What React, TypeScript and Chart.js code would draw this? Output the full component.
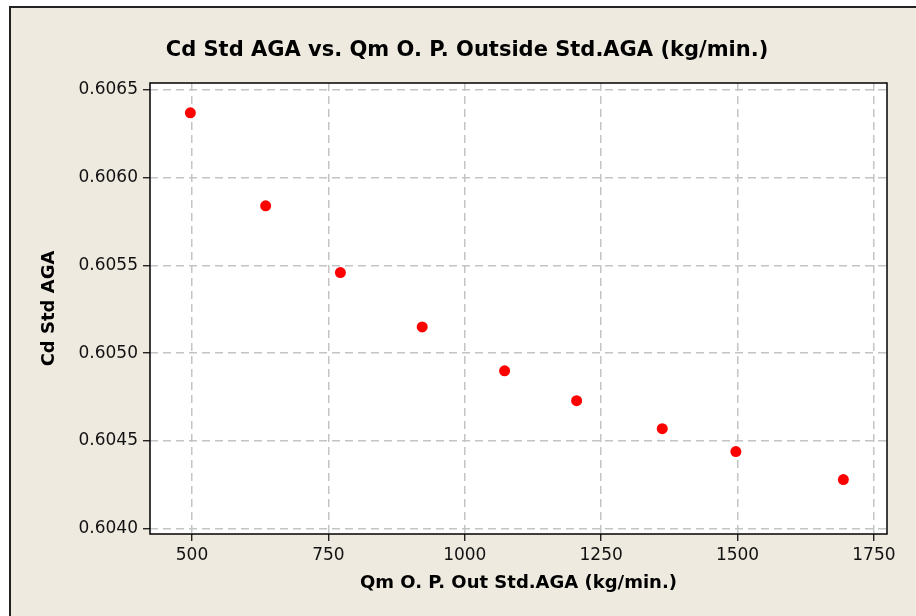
import React, { useEffect, useRef } from 'react';
import { Chart, registerables } from 'chart.js';

Chart.register(...registerables);

const flowRates = [497, 635, 772, 922, 1073, 1205, 1362, 1497, 1694];
const cdValues = [0.60637, 0.60584, 0.60546, 0.60515, 0.6049, 0.60473, 0.60457, 0.60444, 0.60428];
const xTicks = [500, 750, 1000, 1250, 1500, 1750];
const yTicks = [0.604, 0.6045, 0.605, 0.6055, 0.606, 0.6065];
const xRange = [423, 1774];
const yRange = [0.60397, 0.60654];

const titleText = 'Cd Std AGA vs. Qm O. P. Outside Std.AGA (kg/min.)';
const xTitle = 'Qm O. P. Out Std.AGA (kg/min.)';
const yTitle = 'Cd Std AGA';

const FONT = "'DejaVu Sans', Tahoma, Verdana, sans-serif";

const bgPlugin = {
  id: 'bgPlugin',
  beforeDraw(chart: any) {
    const { ctx, width, height, chartArea } = chart;
    ctx.save();
    ctx.fillStyle = '#ffffff';
    ctx.fillRect(0, 0, width, height);
    ctx.fillStyle = '#EEEAE0';
    ctx.fillRect(10, 7, width - 10, height - 7);
    ctx.strokeStyle = '#222222';
    ctx.lineWidth = 2;
    ctx.beginPath();
    ctx.moveTo(10, height);
    ctx.lineTo(10, 7);
    ctx.lineTo(width, 7);
    ctx.stroke();
    ctx.fillStyle = '#ffffff';
    ctx.fillRect(chartArea.left, chartArea.top, chartArea.right - chartArea.left, chartArea.bottom - chartArea.top);
    ctx.restore();
  },
  afterDraw(chart: any) {
    const { ctx, chartArea } = chart;
    ctx.save();
    ctx.strokeStyle = '#000000';
    ctx.lineWidth = 1.5;
    ctx.strokeRect(chartArea.left, chartArea.top, chartArea.right - chartArea.left, chartArea.bottom - chartArea.top);
    ctx.fillStyle = '#000000';
    ctx.font = `bold 21px ${FONT}`;
    ctx.textAlign = 'center';
    ctx.textBaseline = 'middle';
    ctx.fillText(titleText, 467, 51);
    ctx.restore();
  },
};

const gridOpts = {
  display: true,
  color: '#c4c4c4',
  lineWidth: 1.5,
  drawTicks: true,
  tickLength: 7,
  tickColor: '#000000',
  tickWidth: 1.2,
  tickBorderDash: [],
};

export default function App() {
  const ref = useRef<HTMLCanvasElement>(null);

  useEffect(() => {
    document.body.style.margin = '0';
    const canvas = ref.current;
    if (!canvas) return;
    const chart = new Chart(canvas, {
      type: 'scatter',
      data: {
        datasets: [
          {
            label: 'Cd',
            data: flowRates.map((x, i) => ({ x, y: cdValues[i] })),
            backgroundColor: '#ff0000',
            borderColor: '#ff0000',
            pointRadius: 5.5,
            pointHoverRadius: 5.5,
            borderWidth: 0,
          },
        ],
      },
      options: {
        animation: false,
        responsive: false,
        devicePixelRatio: 1,
        layout: { padding: { left: 0, right: 29, top: 83, bottom: 0 } },
        plugins: {
          legend: { display: false },
          tooltip: { enabled: false },
          title: { display: false },
        },
        scales: {
          x: {
            type: 'linear',
            min: xRange[0],
            max: xRange[1],
            afterBuildTicks: (scale: any) => {
              scale.ticks = xTicks.map((v) => ({ value: v }));
            },
            afterFit: (scale: any) => {
              scale.height = 82;
            },
            grid: gridOpts,
            border: { display: false, dash: [8, 5] },
            ticks: {
              color: '#111111',
              font: { family: FONT, size: 17 },
              padding: 4,
              maxRotation: 0,
              autoSkip: false,
              callback: (v: any) => String(v),
            },
            title: {
              display: true,
              text: xTitle,
              color: '#000000',
              font: { family: FONT, size: 18, weight: 'bold', lineHeight: 1.2 },
              padding: { top: 0, bottom: 22 },
            },
          },
          y: {
            type: 'linear',
            min: yRange[0],
            max: yRange[1],
            afterBuildTicks: (scale: any) => {
              scale.ticks = yTicks.map((v) => ({ value: v }));
            },
            afterFit: (scale: any) => {
              scale.width = 150;
            },
            grid: gridOpts,
            border: { display: false, dash: [8, 5] },
            ticks: {
              color: '#111111',
              font: { family: FONT, size: 17 },
              padding: 5,
              autoSkip: false,
              callback: (v: any) => Number(v).toFixed(4),
            },
            title: {
              display: true,
              text: yTitle,
              color: '#000000',
              font: { family: FONT, size: 18, weight: 'bold', lineHeight: 1.2 },
              padding: { top: 39, bottom: 0 },
            },
          },
        },
      },
      plugins: [bgPlugin],
    });
    return () => chart.destroy();
  }, []);

  return <canvas ref={ref} width={916} height={616} style={{ display: 'block', width: 916, height: 616 }} />;
}
